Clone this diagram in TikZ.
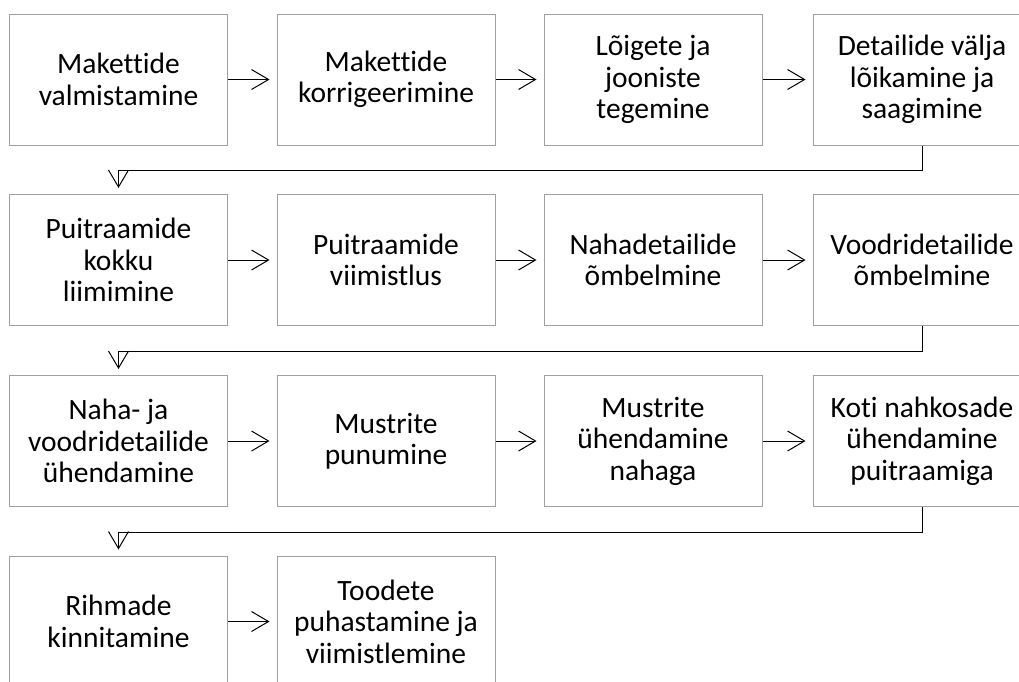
\documentclass[tikz,border=0pt]{standalone}
\usepackage{fontspec}
\setmainfont{Carlito}[Ligatures=NoCommon]
\usepackage{tikz}
\usetikzlibrary{arrows.meta}
\definecolor{boxgray}{RGB}{160,160,160}

\begin{document}
\begin{tikzpicture}[x=1pt, y=-1pt,
    etapp/.style={draw=boxgray, line width=1pt, minimum width=218pt, minimum height=131pt,
        align=center, inner sep=2pt, font=\fontsize{29.5}{31.5}\selectfont},
    nool/.style={draw=black, line width=1pt, -{Straight Barb[length=17pt,width=20pt]}}]
    \useasboundingbox (0,0) rectangle (1019,681);

    % Esimene rida
    \node[etapp] (p1) at (118.5, 79.5) {Makettide\\valmistamine};
    \node[etapp] (p2) at (386, 79.5) {Makettide\\korrigeerimine};
    \node[etapp] (p3) at (653, 79.5) {Lõigete ja\\jooniste\\tegemine};
    \node[etapp] (p4) at (922, 79.5) {Detailide välja\\lõikamine ja\\saagimine};

    % Teine rida
    \node[etapp] (p5) at (118.5, 260) {Puitraamide\\kokku\\liimimine};
    \node[etapp] (p6) at (386, 260) {Puitraamide\\viimistlus};
    \node[etapp] (p7) at (653, 260) {Nahadetailide\\õmbelmine};
    \node[etapp] (p8) at (922, 260) {Voodridetailide\\õmbelmine};

    % Kolmas rida
    \node[etapp] (p9) at (118.5, 441) {Naha- ja\\voodridetailide\\ühendamine};
    \node[etapp] (p10) at (386, 441) {Mustrite\\punumine};
    \node[etapp] (p11) at (653, 441) {Mustrite\\ühendamine\\nahaga};
    \node[etapp] (p12) at (922, 441) {Koti nahkosade\\ühendamine\\puitraamiga};

    % Neljas rida
    \node[etapp] (p13) at (118.5, 621.5) {Rihmade\\kinnitamine};
    \node[etapp] (p14) at (386, 621.5) {Toodete\\puhastamine ja\\viimistlemine};

    % Nooled rea sees
    \draw[nool, shorten >=7pt] (p1) -- (p2);
    \draw[nool, shorten >=7pt] (p2) -- (p3);
    \draw[nool, shorten >=7pt] (p3) -- (p4);
    \draw[nool, shorten >=7pt] (p5) -- (p6);
    \draw[nool, shorten >=7pt] (p6) -- (p7);
    \draw[nool, shorten >=7pt] (p7) -- (p8);
    \draw[nool, shorten >=7pt] (p9) -- (p10);
    \draw[nool, shorten >=7pt] (p10) -- (p11);
    \draw[nool, shorten >=7pt] (p11) -- (p12);
    \draw[nool, shorten >=7pt] (p13) -- (p14);

    % Üleminekud järgmisele reale
    \draw[nool, shorten >=6pt] (p4.south) -- ++(0,25) -| (p5.north);
    \draw[nool, shorten >=6pt] (p8.south) -- ++(0,25) -| (p9.north);
    \draw[nool, shorten >=6pt] (p12.south) -- ++(0,25) -| (p13.north);
\end{tikzpicture}
\end{document}
